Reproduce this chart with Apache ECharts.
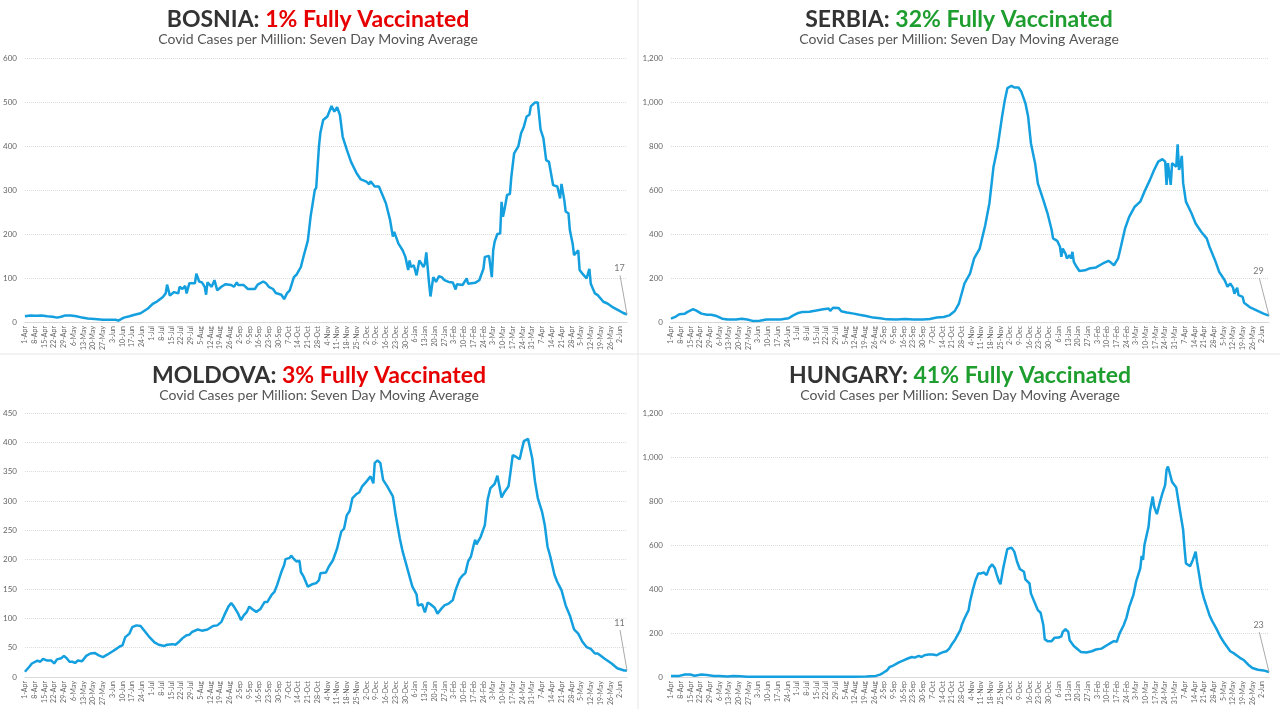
<!DOCTYPE html>
<html>
<head>
<meta charset="utf-8">
<script src="https://cdn.jsdelivr.net/npm/echarts@6/dist/echarts.min.js"></script>
<style>
html,body{margin:0;padding:0;background:#fff;}
#chart{width:1280px;height:709px;}
</style>
</head>
<body>
<div id="chart"></div>
<script>
// Weekly tick labels (day 0 = 1-Apr-2020, one label every 7 days)
const weekLabels = ['1-Apr','8-Apr','15-Apr','22-Apr','29-Apr','6-May','13-May','20-May','27-May','3-Jun','10-Jun','17-Jun','24-Jun','1-Jul','8-Jul','15-Jul','22-Jul','29-Jul','5-Aug','12-Aug','19-Aug','26-Aug','2-Sep','9-Sep','16-Sep','23-Sep','30-Sep','7-Oct','14-Oct','21-Oct','28-Oct','4-Nov','11-Nov','18-Nov','25-Nov','2-Dec','9-Dec','16-Dec','23-Dec','30-Dec','6-Jan','13-Jan','20-Jan','27-Jan','3-Feb','10-Feb','17-Feb','24-Feb','3-Mar','10-Mar','17-Mar','24-Mar','31-Mar','7-Apr','14-Apr','21-Apr','28-Apr','5-May','12-May','19-May','26-May','2-Jun'];
const lastDay = 432;

// [day offset, cases per million]
const bosnia = [[0,13],[4,15],[8,14],[12,15],[16,13],[20,12],[23,10],[26,12],[29,15],[33,15],[37,13],[41,10],[45,8],[50,7],[56,5],[61,5],[65,5],[67,3],[71,10],[75,13],[78,16],[83,20],[88,30],[92,42],[95,47],[99,57],[101,65],[102,85],[104,60],[107,68],[110,65],[111,80],[113,75],[115,82],[116,65],[118,88],[122,88],[123,110],[125,92],[127,90],[129,80],[130,62],[131,90],[134,80],[136,95],[138,72],[141,80],[144,86],[148,84],[150,80],[152,90],[153,84],[157,84],[160,75],[165,75],[167,85],[171,92],[173,88],[175,80],[178,75],[180,66],[184,62],[186,52],[188,65],[190,72],[193,102],[195,108],[198,125],[200,150],[203,185],[205,240],[208,300],[209,305],[211,400],[212,430],[214,459],[217,467],[220,491],[222,478],[224,488],[226,471],[228,421],[231,391],[234,364],[238,338],[241,324],[245,319],[247,313],[248,320],[251,308],[254,308],[257,285],[259,270],[262,232],[264,194],[265,205],[268,178],[271,163],[273,148],[275,118],[276,140],[277,125],[279,129],[281,106],[283,140],[286,125],[287,133],[288,158],[290,87],[291,58],[293,102],[295,91],[297,104],[299,102],[301,95],[304,91],[307,90],[309,74],[310,86],[314,84],[317,99],[318,87],[323,89],[326,95],[329,121],[330,148],[333,150],[335,102],[336,163],[337,182],[339,200],[341,201],[342,273],[343,239],[344,254],[346,289],[348,291],[349,330],[351,383],[354,399],[356,429],[358,444],[360,467],[362,471],[363,490],[366,499],[368,499],[369,499],[370,437],[372,418],[374,368],[376,364],[379,311],[382,308],[384,281],[385,314],[387,277],[388,251],[390,247],[391,209],[393,178],[394,152],[397,163],[398,118],[400,110],[403,99],[405,121],[406,87],[409,65],[411,61],[415,46],[418,42],[422,33],[425,28],[429,21],[432,17]];

const serbia = [[0,15],[3,23],[6,35],[10,38],[12,46],[16,58],[18,53],[22,38],[26,33],[29,33],[33,27],[37,15],[41,11],[47,11],[51,15],[55,11],[59,5],[64,6],[69,11],[79,11],[85,17],[88,29],[92,41],[95,46],[100,47],[105,52],[110,58],[114,61],[115,50],[117,65],[121,64],[123,49],[127,43],[132,38],[136,33],[141,27],[146,20],[151,17],[156,12],[163,11],[169,14],[175,11],[182,11],[187,14],[192,20],[197,23],[201,30],[205,50],[208,84],[212,175],[216,220],[219,289],[223,334],[227,440],[230,539],[233,706],[236,797],[239,927],[241,1003],[243,1063],[246,1074],[248,1066],[251,1066],[253,1048],[256,995],[258,934],[260,813],[263,722],[265,630],[269,554],[272,494],[275,418],[276,380],[279,369],[281,342],[282,296],[283,334],[285,311],[286,289],[288,304],[289,289],[290,319],[291,273],[293,251],[295,232],[299,235],[302,243],[307,248],[312,266],[316,278],[318,269],[320,258],[323,289],[325,342],[328,425],[331,478],[335,524],[339,547],[342,592],[346,646],[349,691],[352,729],[355,740],[357,729],[358,623],[359,722],[360,714],[361,623],[362,722],[363,714],[365,706],[366,808],[367,691],[368,714],[369,755],[370,630],[372,547],[376,494],[379,448],[383,410],[387,380],[389,342],[393,281],[396,228],[400,190],[402,160],[404,175],[406,156],[407,129],[409,156],[410,122],[413,114],[414,87],[418,68],[423,53],[428,38],[432,29]];

const moldova = [[0,9],[3,17],[5,23],[9,28],[11,26],[13,31],[16,28],[19,28],[21,23],[23,30],[26,32],[28,36],[30,32],[32,26],[34,26],[36,24],[38,28],[41,27],[44,36],[47,40],[50,41],[53,37],[56,34],[59,38],[63,44],[65,47],[68,52],[70,54],[72,68],[75,74],[77,85],[80,88],[83,87],[86,78],[89,69],[93,59],[96,55],[100,53],[102,55],[106,56],[108,55],[111,61],[113,66],[116,71],[118,72],[120,77],[124,81],[127,79],[131,81],[135,87],[138,88],[141,94],[143,105],[146,120],[148,126],[150,120],[153,108],[155,97],[157,105],[159,110],[161,120],[163,116],[166,111],[169,116],[172,128],[174,128],[177,140],[179,145],[181,157],[184,179],[186,191],[187,201],[190,203],[191,207],[193,201],[195,197],[197,198],[198,179],[200,171],[203,154],[206,158],[209,160],[211,165],[212,177],[216,178],[218,188],[221,199],[224,219],[227,248],[229,253],[231,276],[233,283],[235,305],[238,312],[240,315],[242,325],[245,333],[248,342],[250,330],[251,365],[253,369],[255,365],[257,336],[260,325],[264,308],[266,276],[269,236],[271,214],[273,197],[276,171],[278,154],[281,141],[282,122],[285,124],[287,110],[289,127],[291,124],[294,118],[296,108],[299,117],[301,122],[304,125],[307,131],[309,148],[312,167],[314,173],[316,177],[318,197],[320,205],[322,225],[323,234],[324,226],[327,239],[330,259],[332,302],[334,322],[337,329],[339,343],[340,345],[342,306],[344,315],[347,325],[348,342],[350,378],[352,376],[355,371],[356,382],[358,402],[361,406],[362,404],[364,373],[366,333],[368,305],[371,282],[373,259],[375,222],[377,205],[380,174],[382,162],[385,148],[388,122],[391,105],[394,81],[397,74],[400,60],[403,51],[406,48],[409,40],[411,40],[416,31],[421,23],[425,15],[430,11],[432,11]];

const hungary = [[0,5],[6,5],[10,11],[14,11],[17,6],[22,11],[26,9],[31,5],[35,5],[41,2],[45,5],[50,3],[55,1],[74,1],[86,1],[108,1],[132,1],[141,2],[148,5],[151,11],[153,18],[156,30],[158,46],[160,50],[163,61],[165,68],[168,76],[171,84],[174,91],[176,88],[179,96],[181,91],[183,99],[186,102],[189,102],[192,99],[194,106],[197,114],[199,117],[201,129],[203,150],[205,167],[207,190],[209,213],[210,235],[212,266],[215,304],[216,342],[218,395],[220,440],[222,471],[224,471],[226,475],[228,463],[230,497],[232,512],[234,494],[235,471],[237,433],[238,422],[240,494],[242,554],[243,582],[246,588],[248,570],[250,524],[252,491],[255,478],[256,444],[259,425],[260,380],[263,334],[265,304],[267,292],[269,235],[270,172],[272,163],[275,163],[277,178],[280,179],[282,185],[283,205],[285,217],[287,205],[288,167],[291,141],[294,125],[296,114],[300,111],[304,117],[307,125],[311,129],[314,141],[318,156],[320,163],[322,160],[324,197],[327,235],[329,269],[331,319],[334,372],[336,433],[339,494],[340,551],[341,532],[342,600],[345,684],[346,752],[348,820],[349,775],[351,740],[353,790],[355,835],[357,873],[358,942],[359,957],[360,934],[362,886],[365,861],[367,782],[370,668],[371,585],[372,516],[375,504],[377,532],[379,570],[380,524],[382,448],[383,406],[385,357],[389,281],[391,254],[394,220],[397,182],[400,152],[404,117],[407,106],[411,87],[414,76],[417,56],[420,41],[424,33],[428,30],[432,23]];

const countries = ['BOSNIA','SERBIA','MOLDOVA','HUNGARY'];
const vaccinated = ['1% Fully Vaccinated','32% Fully Vaccinated','3% Fully Vaccinated','41% Fully Vaccinated'];
const vaxGood = [false, true, false, true];
const subtitle = 'Covid Cases per Million: Seven Day Moving Average';
const yMax = [600, 1200, 450, 1200];
const yStep = [100, 200, 50, 200];
const lastLabels = [17, 29, 11, 23];
// callout leader line top end [day, value]
const calloutTop = [[427,106],[425,200],[427,80],[425,204]];
const seriesData = [bosnia, serbia, moldova, hungary];

const grids = [
  {left:24, right:653, top:58, bottom:387},
  {left:671, right:11, top:58, bottom:387},
  {left:24, right:653, top:413, bottom:32},
  {left:671, right:11, top:413, bottom:32}
];
const titlePos = [{left:313, top:3},{left:954, top:3},{left:314, top:359},{left:955, top:359}];

const FONT = 'Lato, "Noto Sans", sans-serif';
const fmtNum = v => v.toLocaleString('en-US');

const option = {
  backgroundColor:'#ffffff',
  animation:false,
  title: countries.map((c,i)=>({
    text:'{a|'+c+': }{b|'+vaccinated[i]+'}',
    subtext: subtitle,
    left: titlePos[i].left, top: titlePos[i].top, textAlign:'center',
    itemGap: 1,
    textStyle:{ rich:{
      a:{fontFamily:FONT, fontWeight:'bold', fontSize:23, color:'#333333'},
      b:{fontFamily:FONT, fontWeight:'bold', fontSize:23, color: vaxGood[i] ? '#1e9e2e' : '#e60000'}
    }},
    subtextStyle:{fontFamily:FONT, fontSize:14, color:'#555555'}
  })),
  grid: grids,
  xAxis: grids.map((g,i)=>({
    type:'value', gridIndex:i, min:0, max:lastDay, interval:7,
    axisLine:{show:true, lineStyle:{color:'#d9d9d9', width:1}},
    axisTick:{show:false},
    splitLine:{show:false},
    axisLabel:{
      rotate:90, fontSize:7, color:'#666666', fontFamily:FONT, margin:4,
      showMaxLabel:false,
      formatter: v => (v % 7 === 0 ? (weekLabels[v/7] || '') : '')
    }
  })),
  yAxis: grids.map((g,i)=>({
    type:'value', gridIndex:i, min:0, max:yMax[i], interval:yStep[i],
    axisLine:{show:false}, axisTick:{show:false},
    splitLine:{show:true, lineStyle:{color:'#dcdcdc', type:'dotted', width:1}},
    axisLabel:{fontSize:8, color:'#666666', fontFamily:FONT, margin:8, formatter: fmtNum}
  })),
  series: seriesData.map((d,i)=>({
    type:'line', xAxisIndex:i, yAxisIndex:i, data:d,
    showSymbol:false, symbol:'none', smooth:false,
    lineStyle:{color:'#149fdf', width:2.5},
    markLine:{
      silent:true, symbol:['none','none'], animation:false,
      lineStyle:{color:'#aaaaaa', width:1, type:'solid'},
      label:{show:true, position:'end', formatter:String(lastLabels[i]), color:'#777777', fontSize:9, fontFamily:FONT, distance:3},
      emphasis:{disabled:true},
      data:[[{coord:[lastDay, d[d.length-1][1]]},{coord:calloutTop[i]}]]
    }
  })),
  graphic:[
    {type:'line', shape:{x1:638, y1:0, x2:638, y2:709}, style:{stroke:'#e6e6e6', lineWidth:1}, silent:true},
    {type:'line', shape:{x1:0, y1:354, x2:1280, y2:354}, style:{stroke:'#e6e6e6', lineWidth:1}, silent:true}
  ]
};

const chart = echarts.init(document.getElementById('chart'), null, {renderer:'canvas'});
chart.setOption(option);
</script>
</body>
</html>
